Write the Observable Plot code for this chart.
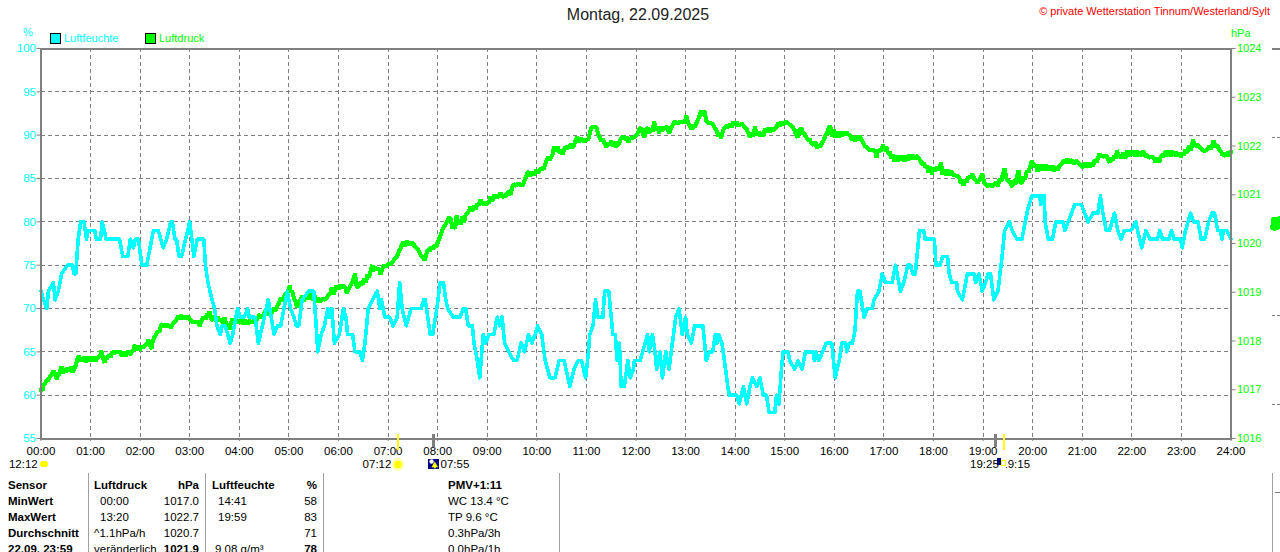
<!DOCTYPE html>
<html lang="de">
<head>
<meta charset="utf-8">
<script src="https://cdn.jsdelivr.net/npm/d3@7"></script>
<script src="https://cdn.jsdelivr.net/npm/@observablehq/plot@0.6"></script>
<style>
  html, body { margin: 0; padding: 0; background: #fff; overflow: hidden; }
  body { width: 1280px; height: 552px; position: relative; font: 11.5px "Liberation Sans", Arial, sans-serif; color: #000; }
  #top { position: relative; height: 38px; }
  #top span { position: absolute; white-space: nowrap; }
  #title { left: 0; width: 1276px; text-align: center; top: 6px; font-size: 16px; color: #222; }
  #copy { right: 10px; top: 5px; color: #f00; font-size: 11px; }
  .cy { color: #00ffff; font-size: 11px; } .gr { color: #00ff00; font-size: 11px; }
  .sw { width: 9px; height: 9px; border: 1px solid #000; top: 33px; }
  #chart { height: 434px; }
  #chart svg { display: block; }
  #table { position: relative; height: 80px; overflow: hidden; }
  #table span { position: absolute; white-space: nowrap; line-height: 14px; }
  #table i { position: absolute; top: 1px; bottom: 0; width: 1px; background: #a0a0a0; }
  #table b { font-weight: bold; }
  .r { text-align: right; }
</style>
</head>
<body>
<div id="top"></div>
<div id="chart"></div>
<div id="table"></div>
<script>
// ---- texts ----
const dateTitle = "Montag, 22.09.2025";
const copyright = "© private Wetterstation Tinnum/Westerland/Sylt";
const humidityName = "Luftfeuchte", pressureName = "Luftdruck";
const humidityUnit = "%", pressureUnit = "hPa";
const humidityColor = "#00ffff", pressureColor = "#00ff00", gray = "#808080";

// ---- axis ticks ----
const hourMinutes = [0,60,120,180,240,300,360,420,480,540,600,660,720,780,840,900,960,1020,1080,1140,1200,1260,1320,1380,1440];
const hourLabels = ["00:00","01:00","02:00","03:00","04:00","05:00","06:00","07:00","08:00","09:00","10:00","11:00","12:00","13:00","14:00","15:00","16:00","17:00","18:00","19:00","20:00","21:00","22:00","23:00","24:00"];
const humidityTicks = [55,60,65,70,75,80,85,90,95,100];
const pressureTicks = [1016,1017,1018,1019,1020,1021,1022,1023,1024];

// ---- series: [minute of day, value] ----
const humidity = [[0,72],[3,71],[7,70],[9,72],[15,73],[17,71],[21,72],[25,74],[32,75],[38,75],[40,74],[42,74],[45,78],[48,80],[52,80],[55,78],[57,79],[65,79],[67,78],[72,78],[74,80],[79,78],[95,78],[99,76],[105,76],[108,78],[112,77],[114,78],[118,78],[122,75],[128,75],[132,77],[136,79],[142,79],[148,77],[152,78],[157,80],[159,80],[162,78],[164,78],[167,76],[170,76],[175,78],[180,80],[185,76],[189,78],[197,78],[199,75],[202,73],[207,71],[210,70],[213,68],[217,67],[219,68],[223,68],[229,66],[232,67],[238,70],[241,69],[246,69],[250,70],[252,69],[259,69],[263,66],[268,68],[275,71],[282,67],[286,68],[290,68],[298,72],[302,70],[306,69],[309,68],[312,68],[316,71],[324,72],[330,72],[333,68],[335,65],[339,67],[343,68],[347,70],[349,69],[352,70],[355,66],[361,67],[366,70],[369,69],[371,67],[377,67],[380,65],[386,65],[389,64],[392,66],[396,70],[401,71],[407,72],[410,70],[412,71],[416,69],[422,69],[426,68],[431,69],[434,73],[437,70],[442,68],[448,70],[460,70],[463,71],[465,71],[468,69],[471,67],[474,67],[479,70],[483,73],[487,73],[489,71.5],[492,70],[499,69],[507,69],[511,70],[514,70],[517,68],[522,68],[524,66],[528,64],[531,62],[535,67],[538,66],[542,67],[548,67],[552,69],[555,68],[558,69],[561,66],[566,65],[572,64],[576,64],[581,66],[585,65],[590,67],[594,66],[598,67],[601,68],[606,67],[610,64],[616,62],[622,62],[627,64],[633,64],[640,61],[645,63],[650,64],[654,64],[659,62],[662,64.5],[664,67],[668,68],[671,71],[674,69],[680,69],[682,72],[687,72],[690,69],[692,67],[695,67],[697,64],[700,66],[702,61],[706,61],[710,64],[713,62],[717,63],[718,64],[725,64],[728,65],[734,67],[736,65],[740,67],[743,65],[745,63],[749,65],[752,62],[756,65],[760,63],[764,66],[768,69],[772,70],[776,67],[780,69],[782,67],[787,66],[791,68],[801,68],[805,64],[809,65],[813,65],[816,67],[818,66],[820,67],[824,66],[827,64],[831,61],[833,60],[842,60],[845,59],[850,61],[854,59],[858,61],[861,62],[866,61],[870,62],[874,60],[878,60],[881,58],[888,58],[890,60],[893,59],[896,63],[898,65],[904,65],[906,64],[912,63],[916,64],[921,63],[925,65],[934,65],[936,64],[938,65],[941,64],[946,65],[950,66],[957,66],[961,62],[966,64],[969,66],[974,66],[975,65],[978,66],[982,66],[985,67.5],[988,72],[991,72],[996,69],[1000,70],[1006,70],[1008,71],[1014,72],[1018,74],[1022,73],[1030,73],[1034,75],[1040,72],[1044,73],[1049,75],[1052,75],[1055,74],[1058,74],[1060,76],[1063,79],[1068,79],[1070,78],[1081,78],[1083,75],[1088,75],[1091,76],[1097,76],[1099,74],[1102,73],[1108,73],[1109,72],[1115,71],[1121,74],[1129,74],[1131,73],[1135,74],[1139,72],[1143,73],[1146,74],[1149,74],[1153,71],[1158,72],[1163,76],[1166,79],[1172,80],[1175,79],[1181,78],[1187,78],[1191,80],[1194,81.4],[1199,83],[1208,83],[1210,82],[1212,83],[1214,83],[1215,80],[1219,78],[1224,78],[1228,80],[1237,80],[1239,79],[1247,81],[1251,82],[1259,82],[1267,80],[1273,81],[1279,81],[1282,83],[1285,81],[1289,79],[1293,79],[1299,81],[1303,79],[1307,78],[1311,79],[1319,79],[1325,80],[1327,79],[1332,77],[1337,79],[1342,78],[1351,78],[1354,79],[1357,78],[1365,78],[1368,79],[1371,78],[1379,78],[1381,77],[1385,79],[1391,81],[1395,80],[1400,80],[1404,78],[1408,78],[1413,80],[1417,81],[1420,81],[1424,79],[1427,79],[1429,78],[1431,79],[1435,79],[1440,78]];

const pressure = [[0,1016.98],[1,1017.05],[2,1016.98],[3,1017.09],[5,1017.12],[6,1017.18],[9,1017.2],[11,1017.27],[13,1017.3],[15,1017.4],[16,1017.3],[18,1017.35],[19,1017.2],[20,1017.33],[21,1017.28],[23,1017.38],[25,1017.48],[26,1017.34],[28,1017.42],[30,1017.36],[32,1017.45],[34,1017.37],[36,1017.47],[38,1017.36],[40,1017.42],[42,1017.5],[44,1017.62],[46,1017.7],[47,1017.58],[49,1017.66],[50,1017.58],[52,1017.68],[54,1017.57],[56,1017.68],[58,1017.58],[60,1017.68],[62,1017.58],[64,1017.67],[66,1017.58],[68,1017.65],[70,1017.68],[72,1017.72],[73,1017.8],[75,1017.65],[77,1017.55],[78,1017.66],[80,1017.64],[82,1017.72],[84,1017.66],[86,1017.78],[88,1017.75],[91,1017.78],[94,1017.76],[96,1017.8],[98,1017.68],[100,1017.78],[102,1017.68],[104,1017.75],[106,1017.8],[108,1017.72],[110,1017.78],[112,1017.82],[113,1017.92],[115,1017.8],[117,1017.9],[119,1017.8],[121,1017.88],[124,1017.87],[127,1017.92],[129,1017.96],[130,1018.02],[132,1017.9],[134,1017.84],[135,1017.98],[137,1018.08],[139,1018.12],[141,1018.2],[143,1018.18],[145,1018.3],[147,1018.36],[149,1018.28],[151,1018.36],[153,1018.28],[155,1018.34],[157,1018.26],[159,1018.34],[161,1018.38],[164,1018.44],[166,1018.52],[168,1018.44],[170,1018.53],[172,1018.45],[174,1018.52],[176,1018.45],[178,1018.52],[180,1018.44],[183,1018.39],[186,1018.39],[189,1018.38],[191,1018.38],[192,1018.3],[194,1018.4],[197,1018.5],[199,1018.44],[201,1018.56],[203,1018.48],[204,1018.6],[206,1018.46],[208,1018.42],[210,1018.52],[212,1018.4],[214,1018.5],[216,1018.4],[218,1018.46],[220,1018.36],[222,1018.48],[224,1018.36],[226,1018.3],[228,1018.24],[230,1018.38],[232,1018.46],[234,1018.36],[237,1018.42],[240,1018.38],[243,1018.44],[245,1018.35],[248,1018.42],[250,1018.35],[252,1018.42],[255,1018.37],[258,1018.42],[261,1018.42],[263,1018.5],[265,1018.54],[267,1018.46],[270,1018.56],[272,1018.64],[274,1018.52],[277,1018.66],[279,1018.58],[282,1018.68],[284,1018.62],[286,1018.72],[288,1018.78],[290,1018.88],[292,1018.82],[294,1018.92],[296,1018.96],[299,1019.02],[301,1019.14],[302,1019.0],[304,1019.02],[306,1018.88],[308,1018.82],[310,1018.68],[312,1018.78],[314,1018.84],[316,1018.92],[318,1018.82],[320,1018.94],[323,1018.86],[326,1018.96],[329,1018.84],[331,1018.94],[333,1018.8],[335,1018.88],[338,1018.8],[341,1018.88],[344,1018.84],[347,1018.92],[350,1018.98],[352,1019.1],[354,1018.96],[357,1019.13],[360,1019.06],[362,1019.16],[364,1019.08],[366,1019.14],[368,1019.1],[370,1018.98],[372,1019.05],[375,1019.16],[378,1019.26],[380,1019.38],[382,1019.12],[384,1019.1],[386,1019.2],[389,1019.16],[391,1019.28],[393,1019.2],[395,1019.36],[397,1019.3],[399,1019.44],[401,1019.56],[402,1019.42],[404,1019.52],[406,1019.46],[408,1019.5],[410,1019.44],[411,1019.36],[413,1019.48],[415,1019.56],[417,1019.52],[420,1019.58],[423,1019.58],[426,1019.64],[429,1019.7],[431,1019.74],[433,1019.84],[435,1019.9],[437,1019.98],[439,1020.04],[441,1019.95],[443,1020.05],[446,1019.97],[449,1020.02],[451,1019.98],[453,1019.92],[456,1019.88],[459,1019.78],[462,1019.72],[464,1019.66],[466,1019.76],[468,1019.88],[470,1019.84],[472,1019.94],[474,1019.88],[476,1019.96],[478,1019.92],[480,1020.02],[482,1020.1],[484,1020.18],[486,1020.3],[488,1020.36],[490,1020.4],[492,1020.48],[494,1020.54],[496,1020.5],[498,1020.3],[500,1020.4],[501,1020.3],[503,1020.58],[505,1020.4],[507,1020.48],[508,1020.38],[510,1020.55],[512,1020.44],[514,1020.6],[516,1020.62],[518,1020.68],[520,1020.76],[522,1020.66],[524,1020.78],[526,1020.7],[528,1020.82],[530,1020.78],[532,1020.9],[534,1020.8],[536,1020.84],[538,1020.78],[540,1020.86],[542,1020.82],[544,1020.96],[546,1020.86],[548,1021.0],[550,1020.92],[552,1021.0],[554,1020.94],[556,1021.04],[558,1020.94],[560,1021.0],[562,1020.96],[564,1021.04],[566,1021.05],[568,1021.0],[570,1021.14],[572,1021.22],[575,1021.18],[578,1021.24],[581,1021.18],[584,1021.23],[586,1021.34],[588,1021.42],[590,1021.48],[592,1021.38],[594,1021.46],[596,1021.4],[599,1021.5],[602,1021.46],[605,1021.55],[608,1021.52],[610,1021.62],[612,1021.72],[614,1021.78],[616,1021.72],[619,1021.82],[621,1021.98],[623,1021.9],[625,1021.98],[627,1021.86],[629,1021.92],[631,1021.82],[633,1021.94],[635,1021.98],[638,1021.96],[641,1022.04],[643,1021.96],[645,1022.02],[647,1022.12],[649,1022.18],[651,1022.08],[654,1022.16],[657,1022.08],[660,1022.14],[662,1022.12],[664,1022.26],[666,1022.38],[669,1022.4],[672,1022.38],[674,1022.26],[676,1022.18],[678,1022.1],[680,1022.14],[682,1022.06],[684,1021.98],[686,1022.06],[688,1022.02],[690,1022.1],[692,1022.0],[694,1022.08],[696,1021.98],[698,1022.02],[700,1022.08],[702,1022.16],[704,1022.2],[707,1022.14],[709,1022.18],[711,1022.08],[713,1022.16],[716,1022.16],[719,1022.2],[722,1022.26],[724,1022.34],[726,1022.38],[728,1022.28],[730,1022.18],[732,1022.34],[734,1022.38],[736,1022.26],[738,1022.34],[740,1022.3],[742,1022.5],[744,1022.32],[746,1022.4],[748,1022.26],[750,1022.4],[752,1022.32],[755,1022.38],[758,1022.38],[760,1022.26],[762,1022.36],[764,1022.42],[767,1022.5],[770,1022.46],[773,1022.5],[776,1022.5],[779,1022.48],[781,1022.62],[783,1022.48],[785,1022.42],[787,1022.34],[789,1022.42],[791,1022.38],[793,1022.46],[795,1022.54],[797,1022.62],[799,1022.72],[801,1022.62],[803,1022.72],[805,1022.52],[807,1022.48],[810,1022.48],[813,1022.44],[815,1022.38],[818,1022.3],[820,1022.2],[822,1022.26],[823,1022.16],[825,1022.3],[827,1022.38],[830,1022.42],[832,1022.38],[834,1022.46],[836,1022.38],[838,1022.5],[840,1022.42],[842,1022.48],[845,1022.42],[848,1022.46],[851,1022.4],[854,1022.34],[856,1022.26],[858,1022.18],[860,1022.28],[862,1022.2],[864,1022.4],[866,1022.22],[868,1022.3],[870,1022.2],[872,1022.26],[874,1022.2],[876,1022.36],[878,1022.28],[880,1022.38],[882,1022.28],[884,1022.38],[886,1022.3],[888,1022.36],[890,1022.38],[892,1022.48],[894,1022.4],[896,1022.5],[898,1022.42],[900,1022.5],[903,1022.48],[906,1022.44],[909,1022.4],[912,1022.32],[914,1022.22],[916,1022.18],[918,1022.34],[920,1022.36],[922,1022.26],[924,1022.24],[926,1022.18],[928,1022.12],[930,1022.14],[932,1022.06],[935,1022.02],[937,1022.08],[939,1021.96],[941,1022.02],[943,1021.98],[945,1022.06],[947,1022.12],[949,1022.2],[951,1022.26],[953,1022.36],[955,1022.42],[957,1022.2],[959,1022.34],[961,1022.18],[963,1022.3],[965,1022.18],[967,1022.3],[969,1022.2],[971,1022.3],[973,1022.22],[975,1022.3],[977,1022.22],[979,1022.24],[981,1022.12],[983,1022.2],[985,1022.1],[987,1022.2],[989,1022.12],[991,1022.2],[993,1022.12],[995,1022.06],[997,1022.0],[1000,1021.96],[1003,1021.92],[1006,1021.92],[1008,1021.9],[1010,1021.92],[1011,1021.76],[1013,1021.92],[1015,1021.9],[1017,1021.92],[1019,1022.02],[1021,1021.9],[1023,1021.98],[1025,1021.84],[1027,1021.88],[1029,1021.74],[1031,1021.82],[1033,1021.68],[1035,1021.8],[1037,1021.68],[1039,1021.8],[1041,1021.7],[1043,1021.8],[1045,1021.68],[1047,1021.8],[1049,1021.7],[1051,1021.82],[1053,1021.72],[1055,1021.82],[1057,1021.72],[1059,1021.8],[1062,1021.76],[1064,1021.7],[1066,1021.62],[1068,1021.66],[1070,1021.56],[1072,1021.6],[1074,1021.46],[1076,1021.58],[1078,1021.42],[1080,1021.56],[1082,1021.48],[1084,1021.58],[1086,1021.5],[1088,1021.56],[1089,1021.66],[1091,1021.42],[1093,1021.52],[1095,1021.4],[1097,1021.52],[1099,1021.4],[1101,1021.5],[1103,1021.42],[1106,1021.4],[1109,1021.38],[1111,1021.36],[1113,1021.24],[1115,1021.3],[1116,1021.18],[1118,1021.3],[1120,1021.26],[1122,1021.36],[1125,1021.36],[1127,1021.42],[1129,1021.34],[1131,1021.3],[1133,1021.24],[1136,1021.3],[1139,1021.44],[1141,1021.26],[1143,1021.22],[1145,1021.18],[1148,1021.2],[1151,1021.18],[1154,1021.22],[1156,1021.26],[1158,1021.18],[1160,1021.32],[1162,1021.28],[1164,1021.42],[1166,1021.54],[1168,1021.34],[1170,1021.3],[1173,1021.24],[1175,1021.16],[1177,1021.3],[1179,1021.22],[1181,1021.38],[1183,1021.5],[1185,1021.26],[1187,1021.24],[1189,1021.36],[1191,1021.32],[1193,1021.5],[1195,1021.46],[1197,1021.58],[1199,1021.7],[1201,1021.6],[1204,1021.6],[1206,1021.48],[1208,1021.62],[1210,1021.5],[1212,1021.62],[1214,1021.5],[1216,1021.62],[1218,1021.5],[1220,1021.6],[1222,1021.5],[1224,1021.6],[1226,1021.48],[1228,1021.58],[1230,1021.5],[1232,1021.58],[1234,1021.62],[1236,1021.66],[1238,1021.72],[1240,1021.64],[1242,1021.74],[1245,1021.66],[1248,1021.72],[1250,1021.62],[1252,1021.7],[1255,1021.66],[1258,1021.6],[1261,1021.56],[1263,1021.66],[1265,1021.56],[1267,1021.66],[1269,1021.56],[1271,1021.66],[1273,1021.58],[1275,1021.72],[1277,1021.66],[1279,1021.76],[1281,1021.84],[1283,1021.78],[1285,1021.8],[1287,1021.78],[1289,1021.82],[1291,1021.72],[1293,1021.66],[1295,1021.76],[1297,1021.7],[1299,1021.8],[1301,1021.74],[1302,1021.92],[1304,1021.76],[1306,1021.82],[1308,1021.74],[1310,1021.86],[1312,1021.74],[1314,1021.9],[1316,1021.78],[1318,1021.9],[1320,1021.8],[1322,1021.9],[1324,1021.78],[1326,1021.9],[1328,1021.78],[1330,1021.88],[1332,1021.8],[1334,1021.9],[1336,1021.78],[1338,1021.82],[1341,1021.76],[1344,1021.78],[1347,1021.74],[1349,1021.66],[1351,1021.76],[1353,1021.66],[1355,1021.78],[1357,1021.82],[1359,1021.78],[1361,1021.9],[1363,1021.78],[1365,1021.9],[1367,1021.78],[1369,1021.9],[1371,1021.8],[1373,1021.88],[1375,1021.8],[1377,1021.86],[1379,1021.78],[1381,1021.86],[1383,1021.82],[1385,1021.92],[1387,1021.86],[1389,1022.0],[1391,1021.92],[1393,1022.02],[1394,1022.14],[1396,1022.0],[1399,1022.02],[1402,1021.98],[1405,1021.92],[1408,1021.9],[1411,1021.92],[1414,1022.0],[1416,1021.94],[1418,1022.06],[1419,1022.12],[1421,1021.98],[1423,1022.02],[1426,1021.92],[1428,1021.9],[1430,1021.8],[1432,1021.86],[1434,1021.78],[1436,1021.88],[1438,1021.8],[1440,1021.88]];

// Stray fragments of the neighbouring graph at the right edge of the picture
const strayPressure = [[1490,1020.32],[1491,1020.5],[1493,1020.3],[1495,1020.5],[1497,1020.32],[1499,1020.52],[1501,1020.36]];
const strayGrid = [89.7, 69.2, 58.9];
const strayGridMinutes = [1490, 1500];

// ---- sun and moon ----
const sunriseMinute = 432, sunsetMinute = 1165, moonriseMinute = 475, moonsetMinute = 1155;
const dayLength = "12:12", sunriseLabel = "07:12", moonriseLabel = "07:55", sunsetLabel = "19:25", moonsetLabel = "19:15";

// ---- summary table ----
const sensorColumn = ["Sensor","MinWert","MaxWert","Durchschnitt","22.09. 23:59"];
const pressureTimes = ["Luftdruck","00:00","13:20","^1.1hPa/h","veränderlich"];
const pressureValues = ["hPa","1017.0","1022.7","1020.7","1021.9"];
const humidityTimes = ["Luftfeuchte","14:41","19:59","","9.08 g/m³"];
const humidityValues = ["%","58","83","71","78"];
const comfortColumn = ["PMV+1:11","WC 13.4 °C","TP 9.6 °C","0.3hPa/3h","0.0hPa/1h"];

// ---- header ----
const headerBox = document.getElementById("top");
headerBox.innerHTML = `
  <span id="title">${dateTitle}</span>
  <span id="copy">${copyright}</span>
  <span class="cy" style="left:23px;top:26px">${humidityUnit}</span>
  <span class="sw" style="left:50px;background:${humidityColor}"></span>
  <span class="cy" style="left:64px;top:32px">${humidityName}</span>
  <span class="sw" style="left:145px;background:${pressureColor}"></span>
  <span class="gr" style="left:159px;top:32px">${pressureName}</span>
  <span class="gr" style="left:1231px;top:27px">${pressureUnit}</span>`;

// ---- chart ----
const hPaToY = p => 55 + (p - 1016) * 45 / 8;
const yToHPa = v => 1016 + (v - 55) * 8 / 45;
const labelOfMinute = new Map(hourMinutes.map((m, i) => [m, hourLabels[i]]));
const gridHours = hourMinutes.slice(1, -1);
const gridLevels = humidityTicks.slice(1, -1);
const crisp = {shapeRendering: "crispEdges"};

const plot = Plot.plot({
  width: 1280,
  height: 434,
  marginTop: 10,
  marginBottom: 34,
  marginLeft: 40.5,
  marginRight: 49.5,
  style: {fontFamily: '"Liberation Sans", Arial, sans-serif', fontSize: "11.5px", background: "#fff", overflow: "hidden"},
  x: {domain: [0, 1440], label: null},
  y: {domain: [55, 100], label: null},
  marks: [
    Plot.ruleX(gridHours, {stroke: gray, strokeDasharray: "4,3", ...crisp}),
    Plot.ruleY(gridLevels, {stroke: gray, strokeDasharray: "4,3", ...crisp}),
    Plot.axisX({ticks: hourMinutes, tickFormat: m => labelOfMinute.get(m), tickSize: 3, tickPadding: 5, stroke: gray, fill: "#000", label: null}),
    Plot.axisY({ticks: humidityTicks, tickSize: 4, tickPadding: 1, stroke: gray, fill: humidityColor, label: null}),
    Plot.axisY({anchor: "right", ticks: pressureTicks.map(hPaToY), tickFormat: v => String(Math.round(yToHPa(v))), tickSize: 4, tickPadding: 2, stroke: gray, fill: pressureColor, fontSize: 11, label: null}),

    Plot.line(pressure, {x: d => d[0], y: d => hPaToY(d[1]), stroke: pressureColor, strokeWidth: 4.2, strokeLinejoin: "bevel", ...crisp}),
    Plot.line(humidity, {x: d => d[0], y: d => d[1], stroke: humidityColor, strokeWidth: 3.6, strokeLinejoin: "round", ...crisp}),
    Plot.frame({stroke: gray, strokeWidth: 2, ...crisp}),

    // stray pieces at the right edge
    Plot.ruleY([100], {x1: strayGridMinutes[0], x2: strayGridMinutes[1], stroke: gray, strokeWidth: 2, ...crisp}),
    Plot.ruleY(strayGrid, {x1: strayGridMinutes[0], x2: strayGridMinutes[1], stroke: gray, strokeDasharray: "3,2", ...crisp}),
    Plot.line(strayPressure, {x: d => d[0], y: d => hPaToY(d[1]), stroke: pressureColor, strokeWidth: 4.2, ...crisp}),

    // sun and moon rules below the frame
    Plot.ruleX([sunriseMinute, sunsetMinute], {y1: 55.46, y2: 53.6, stroke: "#ffff00", strokeWidth: 2, ...crisp}),
    Plot.ruleX([moonriseMinute, moonsetMinute], {y1: 55.46, y2: 54.0, stroke: gray, strokeWidth: 3, ...crisp}),

    // day length
    Plot.text([dayLength], {x: -4, y: 52, textAnchor: "end", fill: "#000"}),
    Plot.rect([0], {x1: -1, x2: 9, y1: 51.65, y2: 52.35, fill: "#ffff00", rx: 3, ...crisp}),

    // sunrise
    Plot.text([sunriseLabel], {x: 424, y: 52, textAnchor: "end", fill: "#000"}),
    Plot.dot([sunriseMinute], {x: d => d, y: 52, r: 6.5, fill: "#ffffb0"}),
    Plot.dot([sunriseMinute], {x: d => d, y: 52, r: 3.8, fill: "#ffff00"}),

    // moonrise
    Plot.rect([0], {x1: 469.5, x2: 482.5, y1: 51.45, y2: 52.6, fill: "#000080", ...crisp}),
    Plot.dot([0], {x: 472.6, y: 52.35, r: 2.2, fill: "#fff"}),
    Plot.ruleX([476.5], {y1: 51.5, y2: 52, stroke: "#ffff00", strokeWidth: 2}),
    Plot.dot([0], {x: 476.5, y: 51.9, r: 2.5, symbol: "triangle", fill: "#ffff00"}),
    Plot.text([moonriseLabel], {x: 483.5, y: 52, textAnchor: "start", fill: "#000"}),

    // sunset and moonset
    Plot.text([sunsetLabel], {x: 1159, y: 52, textAnchor: "end", fill: "#000"}),
    Plot.text([moonsetLabel], {x: 1162, y: 52, textAnchor: "start", fill: "#000"}),
    Plot.rect([0], {x1: 1161.8, x2: 1168.8, y1: 51.3, y2: 52.8, fill: "#fff", ...crisp}),
    Plot.rect([0], {x1: 1157.6, x2: 1161.8, y1: 51.9, y2: 52.7, fill: "#000080", ...crisp}),
    Plot.rect([0], {x1: 1162.6, x2: 1167.4, y1: 51.77, y2: 52.35, fill: "none", stroke: "#ffff00", ...crisp})
  ]
});
document.getElementById("chart").appendChild(plot);

// ---- table ----
const table = document.getElementById("table");
const cell = (text, left, row, bold, right) => {
  const s = document.createElement("span");
  s.style.top = (6 + row * 16) + "px";
  if (right !== undefined) s.style.right = (1280 - right) + "px"; else s.style.left = left + "px";
  s.innerHTML = bold ? `<b>${text}</b>` : text;
  table.appendChild(s);
};
[88, 205, 323, 559, 1272].forEach(x => {
  const l = document.createElement("i");
  l.style.left = x + "px";
  table.appendChild(l);
});
const dash = document.createElement("i");
Object.assign(dash.style, {left: "1275px", top: "20px", bottom: "auto", width: "5px", height: "1px", background: gray});
table.appendChild(dash);
sensorColumn.forEach((t, r) => cell(t, 8, r, true));
pressureTimes.forEach((t, r) => cell(t, r === 1 || r === 2 ? 100 : 94, r, r === 0));
pressureValues.forEach((t, r) => cell(t, 0, r, r === 0 || r === 4, 199));
humidityTimes.forEach((t, r) => cell(t, r === 0 ? 212 : r === 4 ? 215 : 218, r, r === 0));
humidityValues.forEach((t, r) => cell(t, 0, r, r === 0 || r === 4, 317));
comfortColumn.forEach((t, r) => cell(t, 448, r, r === 0));
</script>
</body>
</html>
